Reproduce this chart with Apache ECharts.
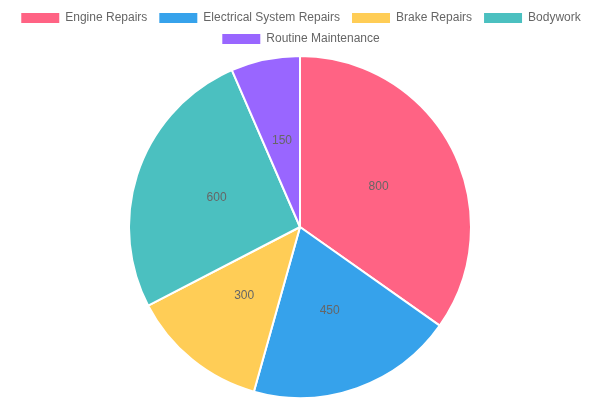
<!DOCTYPE html>
<html>
<head>
<meta charset="utf-8">
<script src="https://cdn.jsdelivr.net/npm/echarts@6/dist/echarts.min.js"></script>
<style>html,body{margin:0;padding:0;background:#fff}#c{width:600px;height:400px}</style>
</head>
<body>
<div id="c"></div>
<script>
const categories = ['Engine Repairs', 'Electrical System Repairs', 'Brake Repairs', 'Bodywork', 'Routine Maintenance'];
const values = [800, 450, 300, 600, 150];
const colors = ['#ff6384', '#36a2eb', '#ffcd56', '#4bc0c0', '#9966ff'];

const font = "'Liberation Sans', Arial, Helvetica, sans-serif";
const chart = echarts.init(document.getElementById('c'));
const legendCommon = {
  orient: 'horizontal',
  left: 'center',
  itemWidth: 40,
  itemHeight: 12,
  itemGap: 10,
  icon: 'rect',
  textStyle: { color: '#666', fontSize: 12, fontFamily: font },
  selectedMode: false
};
chart.setOption({
  animation: false,
  color: colors,
  legend: [
    Object.assign({}, legendCommon, { top: 6, data: categories.slice(0, 4) }),
    Object.assign({}, legendCommon, { top: 27, data: categories.slice(4) })
  ],
  series: [{
    type: 'pie',
    center: [300, 227],
    radius: [0, 171],
    startAngle: 90,
    clockwise: true,
    data: categories.map((c, i) => ({ name: c, value: values[i] })),
    itemStyle: { borderColor: '#fff', borderWidth: 2 },
    label: {
      show: true,
      position: 'inside',
      formatter: '{c}',
      color: '#666',
      fontSize: 12,
      fontFamily: font
    },
    labelLine: { show: false },
    emphasis: { disabled: true }
  }]
});
</script>
</body>
</html>
